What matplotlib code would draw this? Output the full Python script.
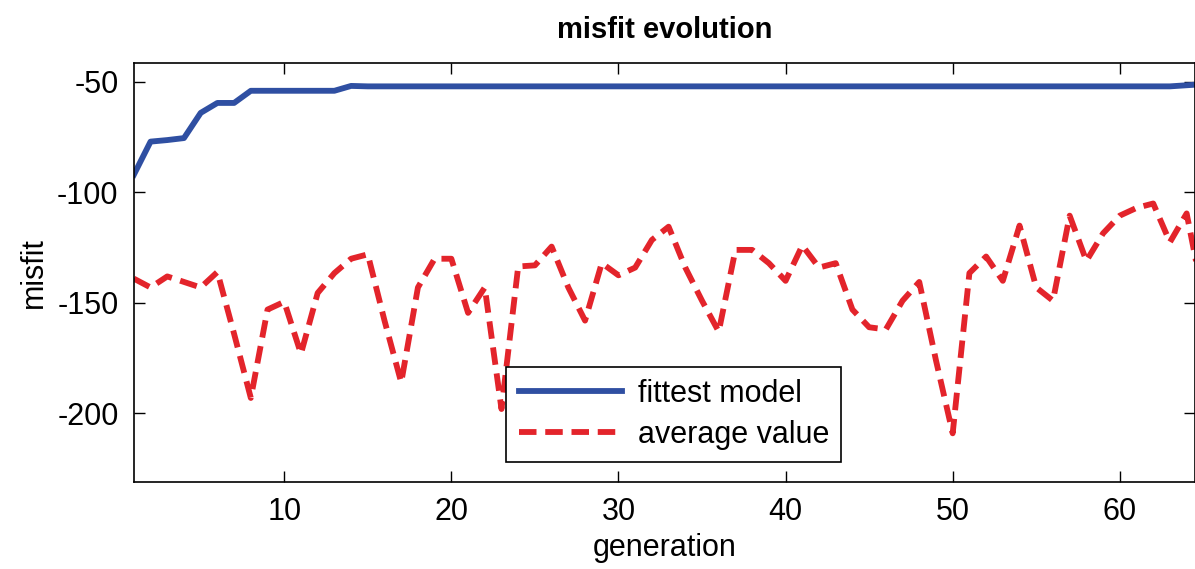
import numpy as np
import matplotlib.pyplot as plt

plt.rcParams['font.family'] = ['Liberation Sans', 'DejaVu Sans']
plt.rcParams['axes.unicode_minus'] = False

generation = np.arange(1, 66)

# best misfit per generation
fittest = [-92, -77, -76.3, -75.4, -64, -59.5, -59.5, -54, -54, -54,
           -54, -54, -54, -51.8, -52, -52, -52, -52, -52, -52,
           -52, -52, -52, -52, -52, -52, -52, -52, -52, -52,
           -52, -52, -52, -52, -52, -52, -52, -52, -52, -52,
           -52, -52, -52, -52, -52, -52, -52, -52, -52, -52,
           -52, -52, -52, -52, -52, -52, -52, -52, -52, -52,
           -52, -52, -52, -51.5, -51]

# average misfit of the population
average = [-139, -143, -138, -140.5, -143, -136, -164, -193, -153, -149.5,
           -173, -145.5, -136.5, -130, -128, -158, -186, -143, -130, -130,
           -154.5, -143, -198, -133.5, -133, -124.5, -143, -158, -132, -137.5,
           -134, -121.5, -115.5, -134, -149, -163, -126, -126, -132, -140,
           -124, -134, -132, -153, -161, -162, -149, -140.5, -176, -209,
           -136.5, -129, -140, -115, -143, -149, -110.5, -131, -118.5, -110.5,
           -107, -105, -122.5, -109.5, -148]

fig = plt.figure(figsize=(11.95, 5.69), dpi=100)
ax = fig.add_axes([0.112, 0.153, 0.888, 0.736])

ax.plot(generation, fittest, color='#2f4fa2', lw=4.2, label='fittest model')
ax.plot(generation, average, color='#e3242b', lw=4.2, ls=(0, (3.0, 1.5)),
        label='average value')

ax.set_xlim(1, 64.5)
ax.set_ylim(-231, -41.5)
ax.set_xticks([10, 20, 30, 40, 50, 60])
ax.set_yticks([-200, -150, -100, -50])
ax.tick_params(direction='in', top=True, right=True, length=8, width=1,
               labelsize=22, pad=11)
for s in ax.spines.values():
    s.set_linewidth(1.2)

ax.set_title('misfit evolution', fontsize=21, fontweight='bold', pad=18)
ax.set_xlabel('generation', fontsize=22, labelpad=4)
ax.set_ylabel('misfit', fontsize=22, labelpad=6)

leg = ax.legend(loc='lower left', bbox_to_anchor=(0.351, 0.048),
                borderaxespad=0, fontsize=22, handlelength=3.4,
                fancybox=False, edgecolor='black', framealpha=1,
                borderpad=0.4, labelspacing=0.35, handletextpad=0.5)
leg.get_frame().set_linewidth(1.2)

fig.savefig('out.png', dpi=100)
